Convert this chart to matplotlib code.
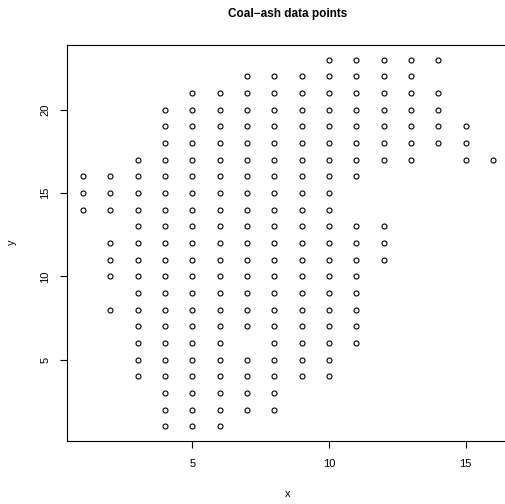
import matplotlib
matplotlib.use('Agg')
import matplotlib.pyplot as plt

# coal-ash sample locations, one line per grid column
x_vals = [1, 1, 1,
          2, 2, 2, 2, 2, 2, 2,
          3, 3, 3, 3, 3, 3, 3, 3, 3, 3, 3, 3, 3, 3,
          4, 4, 4, 4, 4, 4, 4, 4, 4, 4, 4, 4, 4, 4, 4, 4, 4, 4, 4, 4,
          5, 5, 5, 5, 5, 5, 5, 5, 5, 5, 5, 5, 5, 5, 5, 5, 5, 5, 5, 5, 5,
          6, 6, 6, 6, 6, 6, 6, 6, 6, 6, 6, 6, 6, 6, 6, 6, 6, 6, 6, 6, 6,
          7, 7, 7, 7, 7, 7, 7, 7, 7, 7, 7, 7, 7, 7, 7, 7, 7, 7, 7, 7,
          8, 8, 8, 8, 8, 8, 8, 8, 8, 8, 8, 8, 8, 8, 8, 8, 8, 8, 8, 8, 8,
          9, 9, 9, 9, 9, 9, 9, 9, 9, 9, 9, 9, 9, 9, 9, 9, 9, 9, 9,
          10, 10, 10, 10, 10, 10, 10, 10, 10, 10, 10, 10, 10, 10, 10, 10, 10, 10, 10, 10,
          11, 11, 11, 11, 11, 11, 11, 11, 11, 11, 11, 11, 11, 11, 11, 11,
          12, 12, 12, 12, 12, 12, 12, 12, 12, 12,
          13, 13, 13, 13, 13, 13, 13,
          14, 14, 14, 14, 14,
          15, 15, 15,
          16]
y_vals = [14, 15, 16,
          8, 10, 11, 12, 14, 15, 16,
          4, 5, 6, 7, 8, 9, 10, 11, 12, 13, 14, 15, 16, 17,
          1, 2, 3, 4, 5, 6, 7, 8, 9, 10, 11, 12, 13, 14, 15, 16, 17, 18, 19, 20,
          1, 2, 3, 4, 5, 6, 7, 8, 9, 10, 11, 12, 13, 14, 15, 16, 17, 18, 19, 20, 21,
          1, 2, 3, 4, 5, 6, 7, 8, 9, 10, 11, 12, 13, 14, 15, 16, 17, 18, 19, 20, 21,
          2, 3, 4, 5, 7, 8, 9, 10, 11, 12, 13, 14, 15, 16, 17, 18, 19, 20, 21, 22,
          2, 3, 4, 5, 6, 7, 8, 9, 10, 11, 12, 13, 14, 15, 16, 17, 18, 19, 20, 21, 22,
          4, 5, 6, 7, 8, 9, 10, 11, 12, 13, 14, 15, 16, 17, 18, 19, 20, 21, 22,
          4, 5, 6, 7, 8, 9, 10, 11, 12, 13, 14, 15, 16, 17, 18, 19, 20, 21, 22, 23,
          6, 7, 8, 9, 10, 11, 12, 13, 16, 17, 18, 19, 20, 21, 22, 23,
          11, 12, 13, 17, 18, 19, 20, 21, 22, 23,
          17, 18, 19, 20, 21, 22, 23,
          18, 19, 20, 21, 23,
          17, 18, 19,
          17]

x_ticks = [5, 10, 15]
y_ticks = [5, 10, 15, 20]

plt.rcParams['font.family'] = ['Liberation Sans', 'DejaVu Sans']

fig = plt.figure(figsize=(5.05, 5.04), dpi=100)
# R-style plot region; right edge runs past the figure as in the reference
ax = fig.add_axes([67/505, 63.3/504, 442.4/505, 396/504])
ax.plot(x_vals, y_vals, linestyle='none', marker='o', markersize=3.6,
        markerfacecolor='none', markeredgecolor='black', markeredgewidth=0.8)

ax.set_xlim(0.42, 16.6)
ax.set_ylim(0.14, 23.9)
ax.set_xticks(x_ticks)
ax.set_yticks(y_ticks)
ax.tick_params(axis='both', direction='out', length=5, width=0.8, labelsize=8, color='black')
ax.tick_params(axis='x', pad=8)
ax.tick_params(axis='y', pad=7)
for lab in ax.get_yticklabels():
    lab.set_rotation(90)
    lab.set_va('center')
for sp in ax.spines.values():
    sp.set_linewidth(0.8)
    sp.set_color('black')

fig.text(288/505, 1 - 14/504, "Coal\u2212ash data points", ha='center', va='center',
         fontsize=8.5, fontweight='bold')
fig.text(288/505, 1 - 494/504, "x", ha='center', va='center', fontsize=8)
fig.text(12/505, 1 - 242/504, "y", ha='center', va='center', fontsize=8, rotation=90)

plt.savefig('out.png', dpi=100)
